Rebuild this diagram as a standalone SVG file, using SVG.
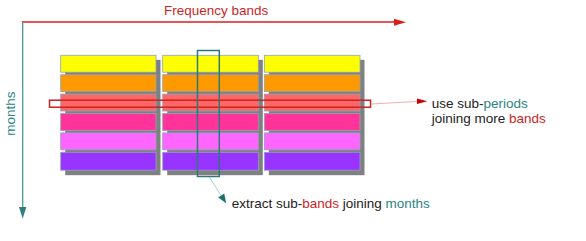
<svg xmlns="http://www.w3.org/2000/svg" width="586" height="241" viewBox="0 0 586 241">
<style>
text{font-family:"Liberation Sans",Arial,sans-serif;font-size:13.5px;fill:#222}
.red{fill:#cc1f1f}
.teal{fill:#2a8585}
.sh{fill:#808080}
.cell{stroke:#8ea3bb;stroke-width:0.8}
.y{fill:#ffff00}.o{fill:#ff9900}.r{fill:#ff6666}.dp{fill:#ff3399}.lp{fill:#ff66ff}.pu{fill:#9933ff}
</style>
<rect width="586" height="241" fill="#fff"/>
<g id="axes">
<line x1="22" y1="22" x2="395" y2="22" stroke="#dd1c1c" stroke-width="1.3"/>
<polygon points="394,18.7 406,22.2 394,25.7" fill="#dd1c1c"/>
<line x1="22.7" y1="22" x2="22.7" y2="208" stroke="#4d9999" stroke-width="1.3"/>
<polygon points="19,207 26.4,207 22.7,218.5" fill="#2f7f7f"/>
<text class="red" x="164" y="14.5">Frequency bands</text>
<text class="teal" transform="translate(15,135.7) rotate(-90)">months</text>
</g>
<g id="col1">
<rect class="sh" x="65.2" y="59.8" width="95.3" height="115.4"/>
<rect class="cell y" x="60.7" y="55.3" width="95.3" height="16.9"/>
<rect class="cell o" x="60.7" y="74.7" width="95.3" height="16.9"/>
<rect class="cell r" x="60.7" y="94.1" width="95.3" height="16.9"/>
<rect class="cell dp" x="60.7" y="113.5" width="95.3" height="16.9"/>
<rect class="cell lp" x="60.7" y="132.9" width="95.3" height="16.9"/>
<rect class="cell pu" x="60.7" y="152.3" width="95.3" height="17.9"/>
</g>
<g id="col2">
<rect class="sh" x="167.2" y="59.8" width="95.6" height="115.4"/>
<rect class="cell y" x="162.7" y="55.3" width="95.6" height="16.9"/>
<rect class="cell o" x="162.7" y="74.7" width="95.6" height="16.9"/>
<rect class="cell r" x="162.7" y="94.1" width="95.6" height="16.9"/>
<rect class="cell dp" x="162.7" y="113.5" width="95.6" height="16.9"/>
<rect class="cell lp" x="162.7" y="132.9" width="95.6" height="16.9"/>
<rect class="cell pu" x="162.7" y="152.3" width="95.6" height="17.9"/>
</g>
<g id="col3">
<rect class="sh" x="268.8" y="59.8" width="95.7" height="115.4"/>
<rect class="cell y" x="264.3" y="55.3" width="95.7" height="16.9"/>
<rect class="cell o" x="264.3" y="74.7" width="95.7" height="16.9"/>
<rect class="cell r" x="264.3" y="94.1" width="95.7" height="16.9"/>
<rect class="cell dp" x="264.3" y="113.5" width="95.7" height="16.9"/>
<rect class="cell lp" x="264.3" y="132.9" width="95.7" height="16.9"/>
<rect class="cell pu" x="264.3" y="152.3" width="95.7" height="17.9"/>
</g>
<g id="selections">
<rect x="49.5" y="100.2" width="321" height="7" fill="none" stroke="#cc2222" stroke-width="1.5"/>
<rect x="197.5" y="50.5" width="21.8" height="126" fill="none" stroke="#2a7a78" stroke-width="1.5"/>
</g>
<g id="connectors">
<line x1="371" y1="104" x2="418" y2="101.4" stroke="#ee9a9a" stroke-width="0.8"/>
<polygon points="417,98.6 427.3,101.3 417,104.1" fill="#cc0000"/>
<line x1="209.3" y1="177" x2="221" y2="195.5" stroke="#8fc4c4" stroke-width="0.8"/>
<polygon points="218.2,197.4 224.2,193.5 226.2,203.2" fill="#1f6f6f"/>
</g>
<g id="labels">
<text x="431.7" y="108.3">use sub-<tspan class="teal">periods</tspan></text>
<text x="431.7" y="123.3">joining more <tspan class="red">bands</tspan></text>
<text x="231.7" y="207.7">extract sub-<tspan class="red">bands</tspan> joining <tspan class="teal">months</tspan></text>
</g>
</svg>
